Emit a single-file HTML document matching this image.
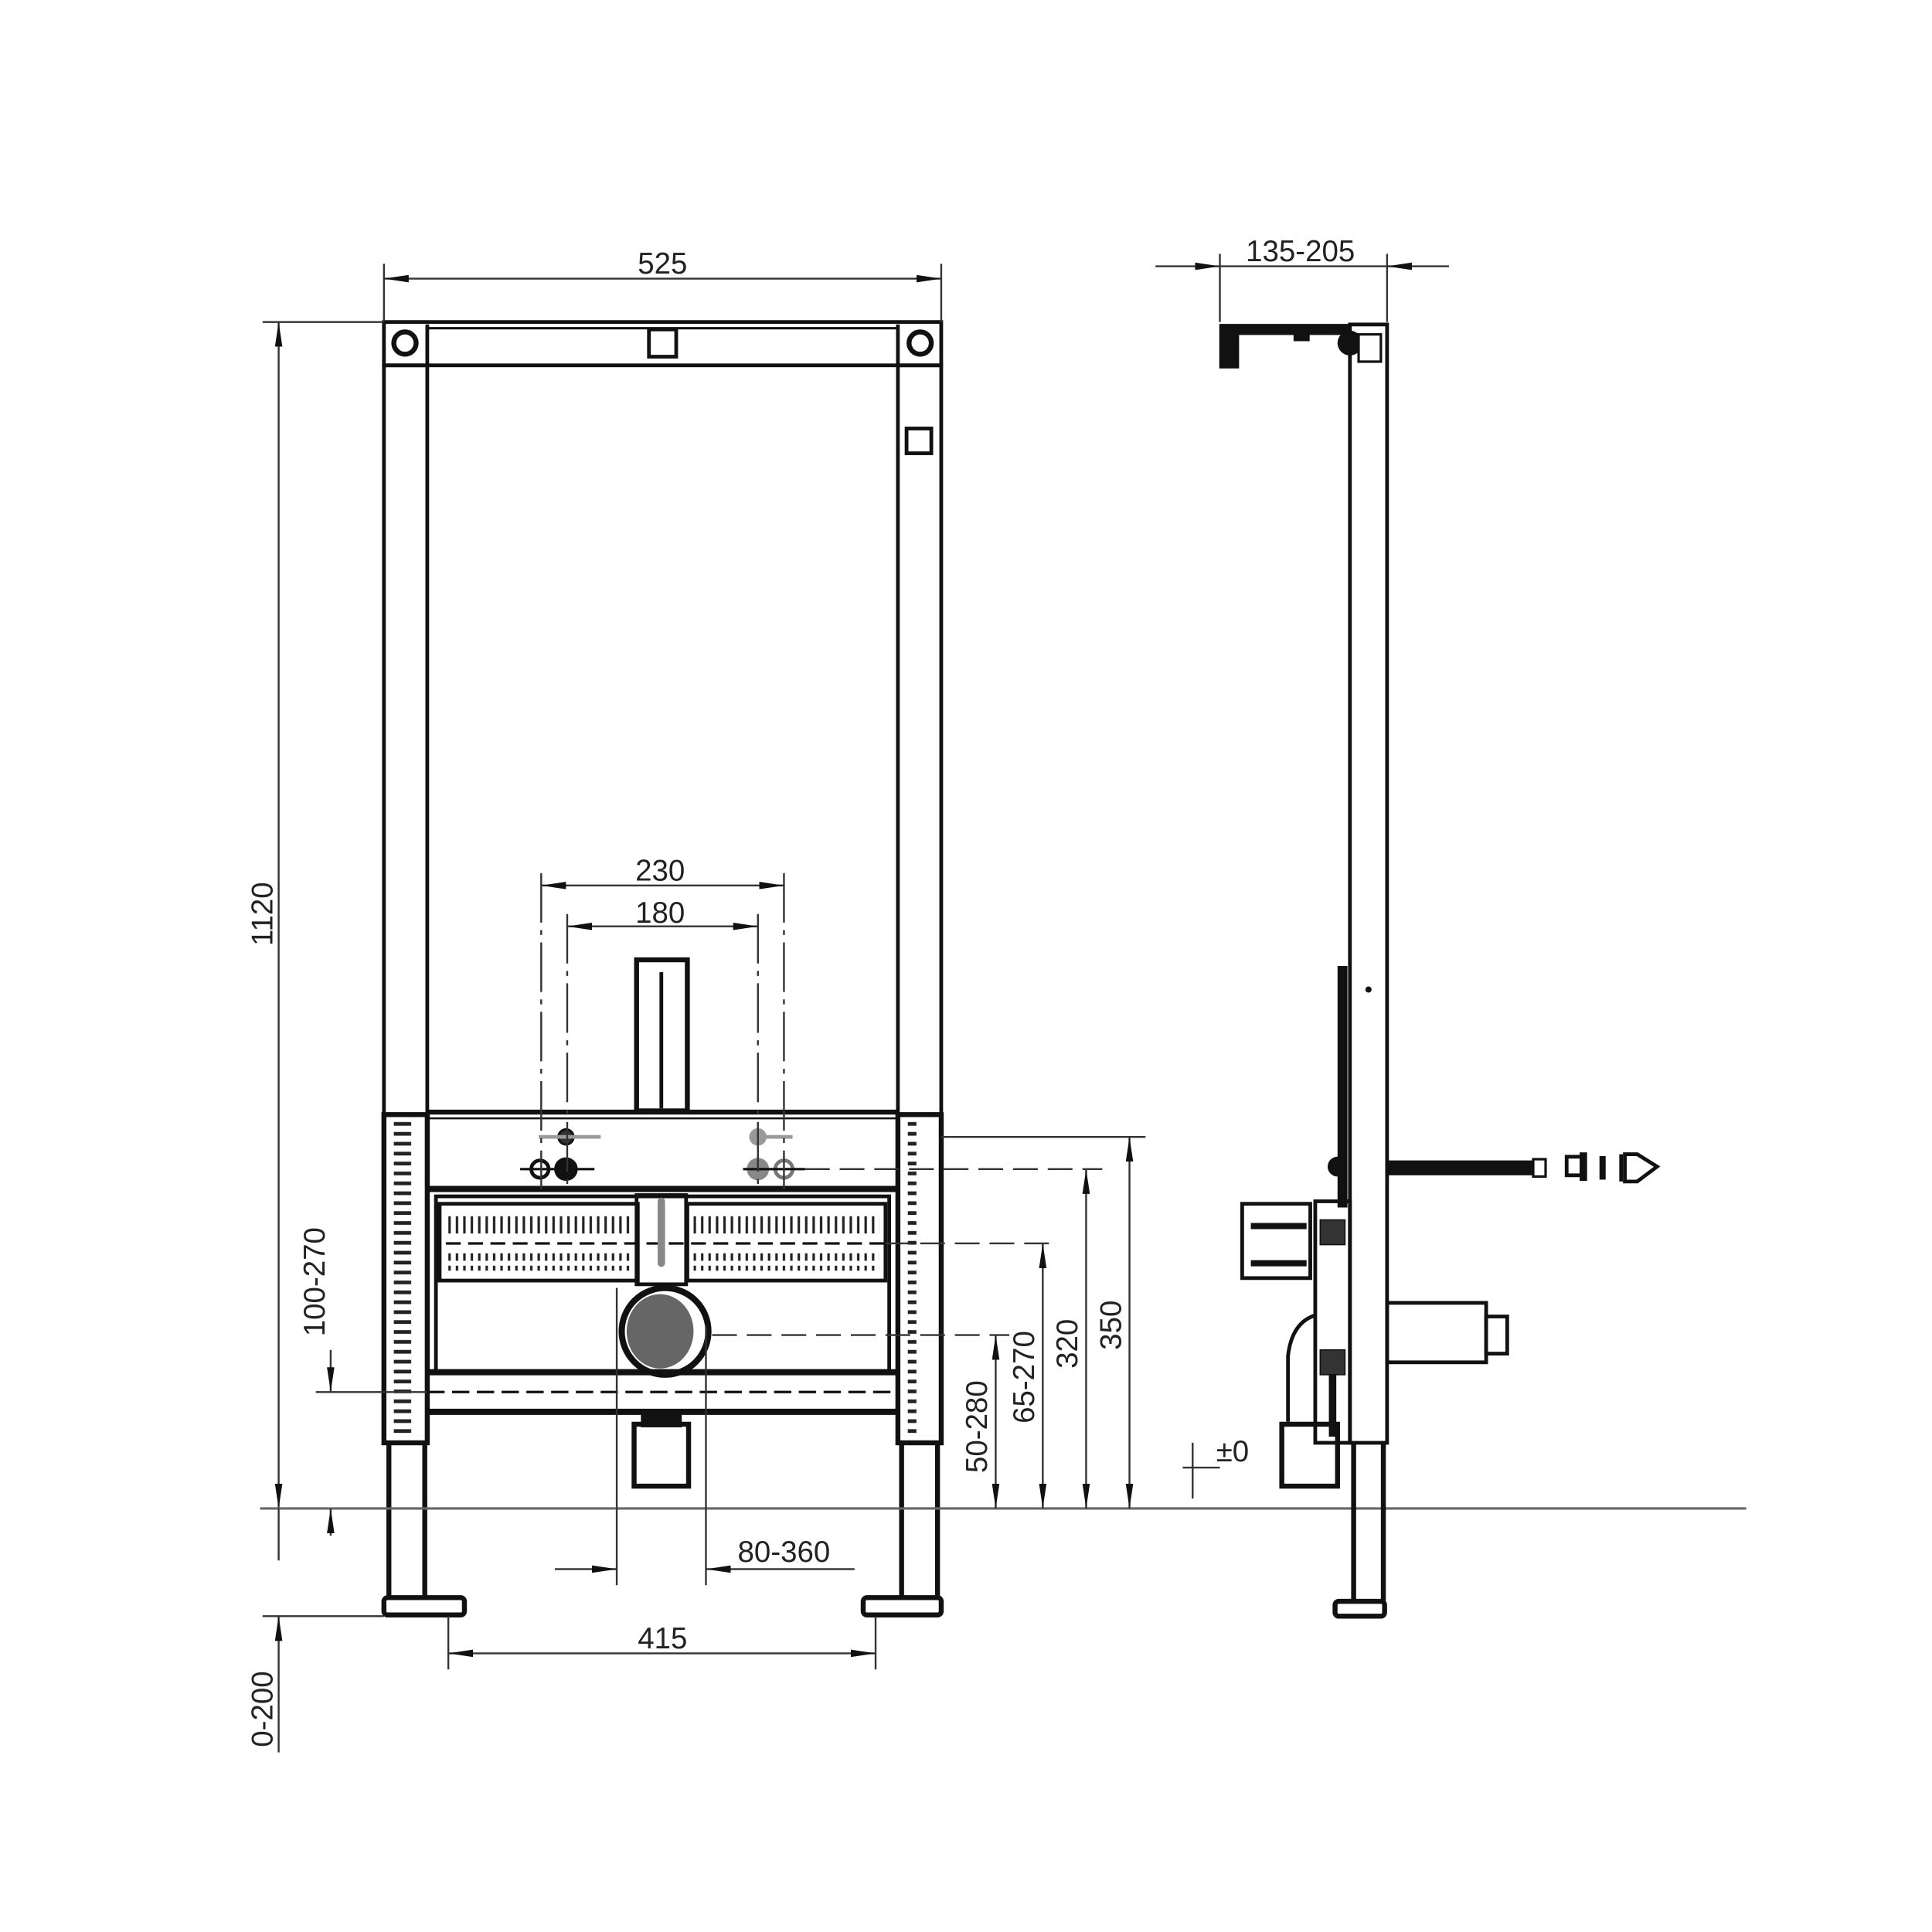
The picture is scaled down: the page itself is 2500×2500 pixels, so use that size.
<!DOCTYPE html>
<html><head><meta charset="utf-8"><style>html,body{margin:0;padding:0;background:#fff}svg{display:block}</style></head>
<body>
<svg width="2500" height="2500" viewBox="0 0 1560 1560" xmlns="http://www.w3.org/2000/svg" font-family="Liberation Sans, sans-serif">
<defs>
<marker id="a" viewBox="0 0 20 6" refX="20" refY="3" markerWidth="20" markerHeight="6" markerUnits="userSpaceOnUse" orient="auto-start-reverse"><path d="M0,0 L20,3 L0,6z" fill="#111"/></marker>
<pattern id="tk" width="34" height="8" patternUnits="userSpaceOnUse"><rect x="6" y="2" width="20" height="3" fill="#222"/></pattern>
<pattern id="rl" width="6" height="20" patternUnits="userSpaceOnUse"><rect x="2" y="2" width="2" height="16" fill="#222"/></pattern>
</defs>
<rect width="1560" height="1560" fill="#fff"/>
<g stroke="#111" fill="none">
<!-- main frame -->
<rect x="310" y="260" width="450" height="35" stroke-width="3"/>
<line x1="345" y1="262" x2="345" y2="295" stroke-width="3"/><line x1="725" y1="262" x2="725" y2="295" stroke-width="3"/>
<line x1="345" y1="265" x2="725" y2="265" stroke-width="2"/>
<rect x="310" y="295" width="35" height="605" stroke-width="3"/>
<rect x="725" y="295" width="35" height="605" stroke-width="3"/>
<circle cx="327" cy="277" r="9" stroke-width="4"/><circle cx="743" cy="277" r="9" stroke-width="4"/>
<rect x="524" y="266" width="22" height="22" stroke-width="3"/>
<rect x="732" y="346" width="20" height="20" stroke-width="3"/>
<!-- riser -->
<rect x="514" y="775" width="41" height="122" stroke-width="4"/>
<line x1="534" y1="785" x2="534" y2="895" stroke-width="3"/>
<!-- lower assembly -->
<rect x="310" y="900" width="35" height="265" stroke-width="4"/>
<rect x="725" y="900" width="35" height="265" stroke-width="4"/>
<rect x="318" y="905" width="19" height="255" fill="url(#tk)" stroke="none"/>
<rect x="733" y="905" width="19" height="255" fill="url(#tk)" stroke="none"/>
<line x1="345" y1="898" x2="725" y2="898" stroke-width="4"/>
<line x1="345" y1="903" x2="725" y2="903" stroke-width="1.5"/>
<line x1="345" y1="960" x2="725" y2="960" stroke-width="5"/>
<rect x="352" y="966" width="366" height="142" stroke-width="3"/>
<rect x="355" y="972" width="160" height="62" stroke-width="3"/>
<rect x="555" y="972" width="160" height="62" stroke-width="3"/>
<rect x="360" y="982" width="150" height="14" fill="url(#rl)" stroke="none"/>
<rect x="360" y="1012" width="150" height="14" fill="url(#rl)" stroke="none"/>
<rect x="560" y="982" width="150" height="14" fill="url(#rl)" stroke="none"/>
<rect x="560" y="1012" width="150" height="14" fill="url(#rl)" stroke="none"/>
<line x1="360" y1="1004" x2="715" y2="1004" stroke-width="2" stroke-dasharray="12 6"/>
<line x1="345" y1="1108" x2="725" y2="1108" stroke-width="5"/>
<line x1="345" y1="1140" x2="725" y2="1140" stroke-width="5"/>
<line x1="345" y1="1124" x2="725" y2="1124" stroke-width="2" stroke-dasharray="14 6"/>
<rect x="514" y="965" width="40" height="72" stroke-width="3"/>
<line x1="534" y1="970" x2="534" y2="1020" stroke="#888" stroke-width="6" stroke-linecap="round"/>
<circle cx="537" cy="1075" r="35" stroke-width="5"/>
<ellipse cx="533" cy="1075" rx="27" ry="30" fill="#666" stroke="none"/>
<rect x="512" y="1150" width="44" height="50" stroke-width="4"/>
<rect x="518" y="1140" width="32" height="12" fill="#111"/>
<!-- fittings -->
<circle cx="457" cy="918" r="6" fill="#333" stroke-width="2"/>
<circle cx="436" cy="944" r="7" stroke-width="3"/>
<circle cx="457" cy="944" r="9" fill="#111"/>
<circle cx="612" cy="918" r="6" fill="#999" stroke="#999" stroke-width="2"/>
<circle cx="612" cy="944" r="9" fill="#888" stroke="none"/>
<circle cx="633" cy="944" r="7" stroke="#777" stroke-width="3"/>
<line x1="420" y1="944" x2="480" y2="944" stroke-width="2"/><line x1="600" y1="944" x2="650" y2="944" stroke-width="2"/>
<line x1="605" y1="918" x2="640" y2="918" stroke="#999" stroke-width="3"/>
<line x1="435" y1="918" x2="485" y2="918" stroke="#999" stroke-width="3"/>
<!-- legs -->
<line x1="314" y1="1165" x2="314" y2="1290" stroke-width="4"/><line x1="343" y1="1165" x2="343" y2="1290" stroke-width="4"/>
<line x1="728" y1="1165" x2="728" y2="1290" stroke-width="4"/><line x1="757" y1="1165" x2="757" y2="1290" stroke-width="4"/>
<rect x="310" y="1290" width="65" height="14" rx="3" stroke-width="4"/>
<rect x="697" y="1290" width="63" height="14" rx="3" stroke-width="4"/>
</g>
<!-- dimension lines -->
<g stroke="#333" stroke-width="1.5" fill="none">
<line x1="310" y1="213" x2="310" y2="260"/><line x1="760" y1="213" x2="760" y2="260"/>
<line x1="310" y1="225" x2="760" y2="225" marker-start="url(#a)" marker-end="url(#a)"/>
<line x1="212" y1="260" x2="310" y2="260"/>
<line x1="225" y1="260" x2="225" y2="1218" marker-start="url(#a)" marker-end="url(#a)"/>
<line x1="210" y1="1218" x2="1410" y2="1218" stroke="#666" stroke-width="2"/>
<line x1="255" y1="1124" x2="345" y2="1124"/>
<line x1="267" y1="1090" x2="267" y2="1124" marker-end="url(#a)"/>
<line x1="267" y1="1240" x2="267" y2="1218" marker-end="url(#a)"/>
<line x1="212" y1="1305" x2="310" y2="1305"/>
<line x1="225" y1="1415" x2="225" y2="1305" marker-end="url(#a)"/>
<line x1="225" y1="1260" x2="225" y2="1218"/>
<line x1="362" y1="1305" x2="362" y2="1348"/><line x1="707" y1="1305" x2="707" y2="1348"/>
<line x1="362" y1="1335" x2="707" y2="1335" marker-start="url(#a)" marker-end="url(#a)"/>
<line x1="498" y1="1040" x2="498" y2="1280"/><line x1="570" y1="1070" x2="570" y2="1280"/>
<line x1="448" y1="1267" x2="498" y2="1267" marker-end="url(#a)"/>
<line x1="690" y1="1267" x2="570" y2="1267" marker-end="url(#a)"/>
<line x1="437" y1="715" x2="633" y2="715" marker-start="url(#a)" marker-end="url(#a)"/>
<line x1="458" y1="748" x2="612" y2="748" marker-start="url(#a)" marker-end="url(#a)"/>
<g stroke-dasharray="40 6 4 6"><line x1="437" y1="705" x2="437" y2="960"/><line x1="458" y1="738" x2="458" y2="960"/><line x1="612" y1="738" x2="612" y2="960"/><line x1="633" y1="705" x2="633" y2="960"/></g>
<line x1="760" y1="918" x2="925" y2="918"/>
<line x1="650" y1="944" x2="890" y2="944" stroke-dasharray="20 8"/>
<line x1="715" y1="1004" x2="855" y2="1004" stroke-dasharray="20 8"/>
<line x1="575" y1="1078" x2="815" y2="1078" stroke-dasharray="20 8"/>
<line x1="912" y1="918" x2="912" y2="1218" marker-start="url(#a)" marker-end="url(#a)"/>
<line x1="877" y1="944" x2="877" y2="1218" marker-start="url(#a)" marker-end="url(#a)"/>
<line x1="842" y1="1004" x2="842" y2="1218" marker-start="url(#a)" marker-end="url(#a)"/>
<line x1="804" y1="1078" x2="804" y2="1218" marker-start="url(#a)" marker-end="url(#a)"/>
<!-- side view dims -->
<line x1="985" y1="205" x2="985" y2="260"/><line x1="1120" y1="205" x2="1120" y2="260"/>
<line x1="933" y1="215" x2="985" y2="215" marker-end="url(#a)"/>
<line x1="1170" y1="215" x2="1120" y2="215" marker-end="url(#a)"/>
<line x1="985" y1="215" x2="1120" y2="215"/>
<line x1="963" y1="1165" x2="963" y2="1210"/><line x1="955" y1="1185" x2="985" y2="1185"/>
</g>
<!-- side view -->
<g stroke="#111" fill="none">
<rect x="1090" y="262" width="30" height="903" stroke-width="3"/>
<line x1="1093" y1="1165" x2="1093" y2="1293" stroke-width="4"/><line x1="1117" y1="1165" x2="1117" y2="1293" stroke-width="4"/>
<rect x="1078" y="1293" width="40" height="12" rx="3" stroke-width="4"/>
<path d="M985,262 H1090 V270 H1000 V297 H985z" fill="#111"/>
<rect x="1045" y="268" width="12" height="7" fill="#111"/>
<circle cx="1090" cy="277" r="10" fill="#111" stroke="none"/>
<rect x="1097" y="270" width="18" height="22" fill="#fff" stroke-width="2"/>
<rect x="1080" y="780" width="8" height="195" fill="#111" stroke="none"/>
<circle cx="1105" cy="799" r="2" fill="#111"/>
<circle cx="1080" cy="942" r="8" fill="#111" stroke="none"/>
<rect x="1120" y="937" width="125" height="12" fill="#111" stroke="none"/>
<rect x="1238" y="936" width="10" height="14" fill="#fff" stroke-width="2"/>
<rect x="1265" y="934" width="12" height="15" stroke-width="3"/><rect x="1276" y="931" width="5" height="22" fill="#111"/>
<rect x="1292" y="934" width="4" height="18" fill="#111"/>
<path d="M1312,932 L1322,932 L1338,942 L1322,954 L1312,954z" stroke-width="3"/>
<line x1="1309" y1="932" x2="1309" y2="954" stroke-width="3"/>
<rect x="1003" y="972" width="55" height="60" stroke-width="3"/>
<line x1="1010" y1="990" x2="1055" y2="990" stroke-width="5"/><line x1="1010" y1="1020" x2="1055" y2="1020" stroke-width="5"/>
<rect x="1062" y="970" width="28" height="195" stroke-width="3"/>
<rect x="1066" y="985" width="20" height="20" fill="#333"/>
<rect x="1066" y="1090" width="20" height="20" fill="#333"/>
<line x1="1076" y1="1110" x2="1076" y2="1160" stroke-width="6"/>
<path d="M1062,1062 Q1043,1068 1040,1095 V1148" stroke-width="3"/>
<rect x="1035" y="1150" width="45" height="50" stroke-width="4"/>
<rect x="1120" y="1052" width="80" height="48" stroke-width="3"/>
<rect x="1200" y="1063" width="17" height="30" stroke-width="3"/>
</g>
<!-- labels -->
<g fill="#222" font-size="24" text-anchor="middle">
<text x="535" y="221">525</text>
<text x="1050" y="211">135-205</text>
<text x="533" y="711">230</text>
<text x="533" y="745">180</text>
<text x="633" y="1261">80-360</text>
<text x="535" y="1331">415</text>
<text transform="translate(220,738) rotate(-90)">1120</text>
<text transform="translate(262,1035) rotate(-90)">100-270</text>
<text transform="translate(220,1380) rotate(-90)">0-200</text>
<text transform="translate(905,1070) rotate(-90)">350</text>
<text transform="translate(870,1085) rotate(-90)">320</text>
<text transform="translate(835,1112) rotate(-90)">65-270</text>
<text transform="translate(797,1152) rotate(-90)">50-280</text>
<text x="982" y="1180" text-anchor="start">±0</text>
</g>
</svg>
</body></html>
